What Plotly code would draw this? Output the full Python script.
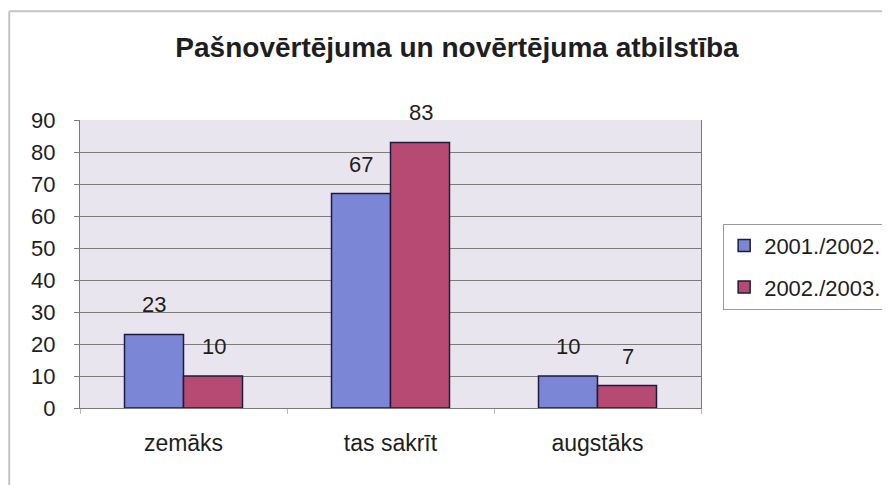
import plotly.graph_objects as go

categories = ["zemāks", "tas sakrīt", "augstāks"]
series_names = ["2001./2002.", "2002./2003."]
values_2001 = [23, 67, 10]
values_2002 = [10, 83, 7]
y_ticks = [0, 10, 20, 30, 40, 50, 60, 70, 80, 90]

FONT = "Liberation Sans, Arial, sans-serif"
TEXT = "#1e1e1e"
colors = ["#7b86d6", "#b64a73"]

fig = go.Figure()

for i, (name, vals) in enumerate(zip(series_names, [values_2001, values_2002])):
    fig.add_trace(
        go.Bar(
            x=categories,
            y=vals,
            name=name,
            legendgroup=name,
            marker=dict(color=colors[i], line=dict(color="#1c1c3c", width=1.5)),
        )
    )
    # data labels floating above each bar
    for cat, v in zip(categories, vals):
        fig.add_annotation(
            x=cat,
            y=v,
            text=str(v),
            showarrow=False,
            xshift=-30 if i == 0 else 30,
            yshift=15,
            yanchor="bottom",
            font=dict(family=FONT, size=22, color=TEXT),
        )

# outer chart frame (top and left edges visible)
fig.add_shape(type="line", xref="paper", yref="paper", x0=-0.114, x1=1.4, y0=1.378, y1=1.378,
              line=dict(color="#c4c4c4", width=2))
fig.add_shape(type="line", xref="paper", yref="paper", x0=-0.114, x1=-0.114, y0=1.378, y1=-0.4,
              line=dict(color="#c4c4c4", width=2))

fig.update_layout(
    width=890,
    height=485,
    margin=dict(l=72, r=196, t=112, b=85),
    paper_bgcolor="white",
    plot_bgcolor="#e9e5ee",
    barmode="group",
    bargap=0.43,
    bargroupgap=0,
    title=dict(
        text="<b>Pašnovērtējuma un novērtējuma atbilstība</b>",
        x=0.5045,
        xanchor="center",
        y=0.92,
        yanchor="middle",
        font=dict(family=FONT, size=28, color=TEXT),
    ),
    legend=dict(
        x=1.034,
        y=0.64,
        xanchor="left",
        yanchor="top",
        bordercolor="#9a9a9a",
        borderwidth=1,
        bgcolor="white",
        font=dict(family=FONT, size=22, color=TEXT),
        tracegroupgap=10,
        traceorder="grouped",
    ),
    font=dict(family=FONT, color=TEXT),
)

fig.update_yaxes(
    range=[0, 90],
    tickvals=y_ticks,
    showgrid=True,
    gridcolor="#7a7a7a",
    gridwidth=1,
    showline=True,
    linecolor="#7a7a7a",
    mirror=True,
    ticks="outside",
    ticklen=5,
    tickcolor="#7a7a7a",
    ticklabelstandoff=14,
    tickfont=dict(family=FONT, size=22, color=TEXT),
    zeroline=False,
)

fig.update_xaxes(
    showline=True,
    linecolor="#7a7a7a",
    ticks="outside",
    tickson="boundaries",
    ticklen=5,
    tickcolor="#bbbbbb",
    ticklabelstandoff=14,
    tickfont=dict(family=FONT, size=23, color=TEXT),
)

fig.write_html("out.html")
